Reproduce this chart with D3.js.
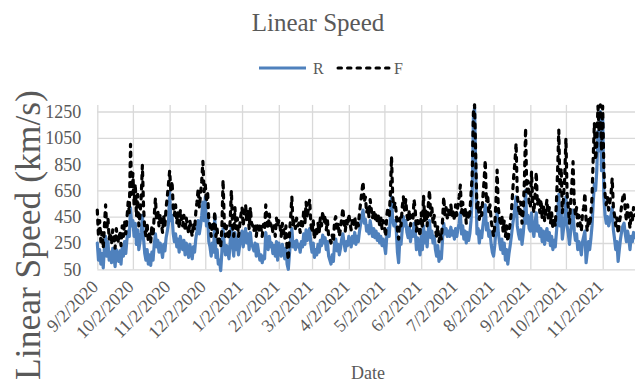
<!DOCTYPE html>
<html><head><meta charset="utf-8">
<script src="https://cdn.jsdelivr.net/npm/d3@7"></script>
<style>
body{margin:0;background:#fff}
svg{display:block}
text{font-family:"Liberation Serif","Times New Roman",serif;fill:#595959}
</style>
</head><body>
<svg id="chart" width="635" height="383"></svg>
<script>
// ---- data ----
const chartTitle = "Linear Speed";
const seriesNames = ["R", "F"];
const firstDate = "9/2/2020";           // one value per day from this date
const yTicks = [50, 250, 450, 650, 850, 1050, 1250];
const yMax = 1300;
const xTickLabels = ["9/2/2020","10/2/2020","11/2/2020","12/2/2020","1/2/2021","2/2/2021","3/2/2021",
  "4/2/2021","5/2/2021","6/2/2021","7/2/2021","8/2/2021","9/2/2021","10/2/2021","11/2/2021"];

const R = [
  250,120,200,90,170,60,220,300,150,260,120,180,100,210,150,70,200,140,110,190,90,220,150,260,170,280,340,300,520,380,
  420,300,400,240,350,200,260,330,460,280,170,120,200,90,160,80,180,120,240,320,220,270,180,250,200,140,240,190,290,340,400,
  640,420,460,320,260,320,220,280,180,300,240,200,270,160,250,200,140,240,190,130,220,180,280,340,420,320,380,460,560,420,
  600,380,460,260,220,150,250,180,460,140,200,90,120,40,180,360,240,160,230,180,130,260,380,230,150,330,200,280,160,230,300,
  340,220,300,360,250,320,200,330,240,220,190,250,150,240,180,120,160,100,150,130,330,260,200,300,220,250,170,230,150,260,120,
  250,200,150,240,190,130,210,90,50,170,280,360,220,260,200,270,220,240,180,260,220,320,240,350,270,320,360,240,
  180,250,140,200,160,240,180,270,230,310,250,290,200,260,150,120,90,160,110,250,280,190,240,160,210,280,320,250,190,260,230,
  300,260,220,300,250,330,240,300,260,340,400,460,500,400,430,340,380,320,420,360,300,360,290,340,270,320,250,300,230,280,
  230,170,300,360,300,440,600,420,380,420,350,180,100,280,240,350,450,380,420,330,290,370,260,340,300,400,340,200,290,240,160,
  300,200,380,250,330,220,350,420,290,340,250,300,200,150,230,110,180,130,280,400,320,360,300,340,300,370,310,340,280,360,
  300,360,400,480,320,380,280,340,250,330,270,320,420,600,1200,1280,800,320,360,250,340,290,380,450,540,350,400,300,340,240,180,
  150,230,350,500,330,260,200,280,170,250,120,200,90,170,230,300,380,450,520,600,380,320,280,350,240,320,430,650,400,460,360,
  340,480,360,300,400,480,340,380,300,360,260,340,240,310,360,270,330,230,300,200,270,220,330,450,620,380,480,280,360,440,
  600,380,320,240,340,420,500,340,270,320,200,260,220,160,260,300,340,100,180,260,200,280,380,560,700,650,800,1100,950,1250,800,
  1200,600,460,400,450,380,420,460,520,350,280,200,260,110,200,280,340,380,400,320,260,340,290,200,300,260,330,290
];

const F = [
  500,300,420,260,330,210,380,540,350,440,280,330,240,350,300,210,360,290,250,340,230,380,300,420,320,440,560,480,1000,620,
  780,540,700,450,620,380,460,600,840,520,360,300,400,260,340,250,380,300,460,590,420,500,380,470,400,330,450,380,520,600,700,
  800,640,720,520,460,540,400,480,360,500,420,380,460,340,440,380,320,420,360,300,400,350,480,560,660,520,620,720,870,640,
  700,560,640,420,380,300,410,340,490,300,360,240,280,220,360,730,420,300,380,330,280,420,650,380,300,520,360,440,300,380,460,
  520,380,480,540,420,500,360,520,400,380,340,400,300,380,330,400,360,300,390,350,540,420,360,470,380,400,330,380,300,440,380,
  420,380,300,400,350,280,380,200,120,320,450,600,380,420,360,440,380,400,330,420,380,500,400,560,440,520,580,400,
  330,420,280,360,300,400,330,440,380,490,400,460,350,420,300,280,250,310,260,420,450,340,400,300,360,440,515,400,340,420,380,
  470,400,350,420,380,450,360,420,380,480,560,640,716,560,600,480,520,450,580,500,440,500,420,480,400,460,380,440,360,420,
  380,300,460,520,440,620,906,600,520,560,480,350,280,440,380,520,600,500,580,460,420,500,380,460,420,580,500,340,420,380,300,
  480,360,610,420,500,380,540,650,460,520,400,460,360,300,380,260,320,280,420,600,460,520,440,500,450,540,460,500,420,540,
  460,540,600,690,480,560,440,520,400,500,430,480,620,760,1240,1300,900,500,560,430,520,460,600,720,880,560,620,480,540,420,360,
  300,380,560,805,520,440,380,460,340,420,300,380,260,340,400,480,620,760,860,1010,620,520,460,560,400,500,720,1124,640,720,560,
  520,792,560,480,620,790,540,600,480,580,440,540,420,500,580,440,520,400,480,360,440,380,560,800,1108,640,820,480,600,760,
  1046,620,520,400,560,700,868,560,460,520,380,460,400,340,480,520,630,420,340,440,380,460,600,900,1163,880,1000,1290,1100,1300,950,
  1290,800,620,540,600,500,560,620,744,520,460,380,440,320,400,460,540,600,630,500,420,540,460,360,480,420,520,460
];

// ---- chart ----
const W = 635, H = 383;
const plotLeft = 97.3, plotBottom = 269.3, plotTop = 104.9;
const colors = {R: "#4F81BD", F: "#000000"};
const parse = d3.utcParse("%m/%d/%Y");
const start = parse(firstDate);
const dates = R.map((_, i) => d3.utcDay.offset(start, i));
const tickDates = xTickLabels.map(parse);

const x = d3.scaleUtc()
  .domain([tickDates[0], tickDates[tickDates.length - 1]])
  .range([plotLeft, 602.7]);
const y = d3.scaleLinear().domain([yTicks[0], yMax]).range([plotBottom, plotTop]);

const svg = d3.select("#chart");

// horizontal gridlines + y labels
const gy = svg.append("g").attr("transform", `translate(${plotLeft},0)`)
  .call(d3.axisLeft(y).tickValues(yTicks).tickFormat(d3.format("d"))
    .tickSize(-(W - plotLeft + 5)).tickPadding(0));
gy.select(".domain").remove();
gy.selectAll("line").attr("stroke", "#D9D9D9").attr("stroke-width", 1.3);
gy.selectAll("text").attr("x", -16).attr("dy", "0.33em")
  .style("font-size", "18px").style("font-family", '"Liberation Serif",serif').attr("fill", "#595959");

// vertical gridlines + x labels
const gx = svg.append("g").attr("transform", `translate(0,${plotBottom})`)
  .call(d3.axisBottom(x).tickValues(tickDates).tickSize(-(plotBottom - plotTop))
    .tickFormat((d, i) => xTickLabels[i]));
gx.select(".domain").remove();
gx.selectAll("line").attr("stroke", "#D9D9D9").attr("stroke-width", 1.3);
gx.selectAll("text")
  .attr("x", 0).attr("y", 0).attr("dy", "0.35em")
  .attr("transform", "translate(-3,14) rotate(-45)")
  .attr("text-anchor", "end")
  .style("font-size", "18px").style("font-family", '"Liberation Serif",serif').attr("fill", "#595959");

// lines
const line = d3.line().x((d, i) => x(dates[i])).y(d => y(d)).curve(d3.curveLinear);
svg.append("path").datum(R).attr("d", line)
  .attr("fill", "none").attr("stroke", colors.R).attr("stroke-width", 3.2)
  .attr("stroke-linejoin", "round").attr("stroke-linecap", "round");
svg.append("path").datum(F).attr("d", line)
  .attr("fill", "none").attr("stroke", colors.F).attr("stroke-width", 3.2)
  .attr("stroke-dasharray", "4,6").attr("stroke-linejoin", "round").attr("stroke-linecap", "round");

// title
svg.append("text").attr("x", 318).attr("y", 31).attr("text-anchor", "middle")
  .style("font-size", "25px").text(chartTitle);

// legend
const lg = svg.append("g");
lg.append("line").attr("x1", 259).attr("x2", 306).attr("y1", 68).attr("y2", 68)
  .attr("stroke", colors.R).attr("stroke-width", 3);
lg.append("text").attr("x", 313).attr("y", 68).attr("dy", "0.35em").style("font-size", "16px").text(seriesNames[0]);
lg.append("line").attr("x1", 338).attr("x2", 389).attr("y1", 68).attr("y2", 68)
  .attr("stroke", colors.F).attr("stroke-width", 3).attr("stroke-dasharray", "3.5,6").attr("stroke-linecap", "round");
lg.append("text").attr("x", 394).attr("y", 68).attr("dy", "0.35em").style("font-size", "16px").text(seriesNames[1]);

// axis titles
svg.append("text").attr("transform", "translate(40,235) rotate(-90)").attr("text-anchor", "middle")
  .style("font-size", "35.5px").text("Linear Speed (km/s)");
svg.append("text").attr("x", 368).attr("y", 379).attr("text-anchor", "middle")
  .style("font-size", "18px").text("Date");
</script>
</body></html>
